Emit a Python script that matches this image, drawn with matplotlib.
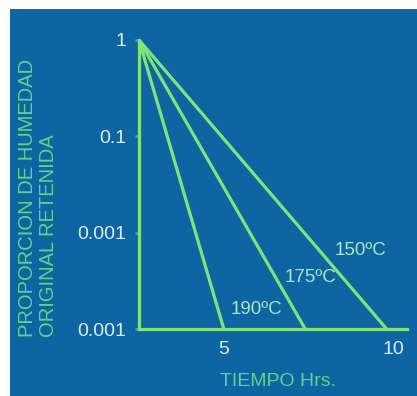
import matplotlib.pyplot as plt
from matplotlib.patches import Rectangle

plt.rcParams['font.family'] = ['Liberation Sans', 'DejaVu Sans']

# drying curves: time (h) at start and end of each curve, retained moisture fraction
temperaturas = ['150ºC', '175ºC', '190ºC']
t_inicio = [2.5, 2.5, 2.5]
t_final = [9.8, 7.4, 5.0]
humedad_inicio = [1.0, 1.0, 1.0]
humedad_final = [0.001, 0.001, 0.001]

yticks = [1, 0.1, 0.01, 0.001]
ytick_labels = ['1', '0.1', '0.001', '0.001']
xticks = [5, 10]
xtick_labels = ['5', '10']

azul = '#0f65a1'
verde = '#7fe37c'
verde_texto = '#5fd38c'
texto_claro = '#dcecf4'
etiqueta_temp = '#a6e8c6'

fig = plt.figure(figsize=(4.17, 3.96), dpi=100, facecolor='white')
# blue panel behind everything, leaving a thin white margin on top and left
fig.patches.append(Rectangle((10 / 417, 0), 1 - 10 / 417, 1 - 9 / 396,
                             transform=fig.transFigure, facecolor=azul,
                             edgecolor='none', zorder=-5))

ax = fig.add_axes([139 / 417, 67 / 396, 268 / 417, 289 / 396])
ax.set_zorder(2)
ax.set_facecolor('none')
ax.set_yscale('log')
ax.set_xlim(2.5, 10.4)
ax.set_ylim(0.001, 1)

for t0, t1, h0, h1 in zip(t_inicio, t_final, humedad_inicio, humedad_final):
    ax.plot([t0, t1], [h0, h1], color=verde, lw=2.3, solid_capstyle='butt', zorder=3)

# temperature labels next to each curve
pos_etiquetas = [(9.04, 0.0066), (7.57, 0.0034), (5.95, 0.0016)]
for txt, (x, y) in zip(temperaturas, pos_etiquetas):
    ax.text(x, y, txt, color=etiqueta_temp, fontsize=13.5, ha='center', va='center')

for lado in ['top', 'right']:
    ax.spines[lado].set_visible(False)
for lado in ['left', 'bottom']:
    ax.spines[lado].set_color(verde)
    ax.spines[lado].set_linewidth(2.3)

ax.set_yticks(yticks)
ax.set_yticklabels(ytick_labels)
ax.yaxis.set_minor_locator(plt.NullLocator())
ax.tick_params(axis='y', colors='#2aa6e0', length=3, width=2, pad=6,
               labelcolor=texto_claro, labelsize=14)
ax.set_xticks(xticks)
ax.set_xticklabels(xtick_labels)
ax.tick_params(axis='x', length=0, pad=9, labelcolor=texto_claro, labelsize=14)

fig.text(278 / 417, 1 - 382 / 396, 'TIEMPO Hrs.', color=verde_texto,
         fontsize=14, ha='center', va='center')
fig.text(28 / 417, 1 - 337 / 396, 'PROPORCION DE HUMEDAD', color=verde_texto,
         fontsize=14.5, rotation=90, ha='center', va='bottom')
fig.text(49 / 417, 1 - 337 / 396, 'ORIGINAL RETENIDA', color=verde_texto,
         fontsize=14.5, rotation=90, ha='center', va='bottom')

fig.savefig('out.png', dpi=100, facecolor='white')
